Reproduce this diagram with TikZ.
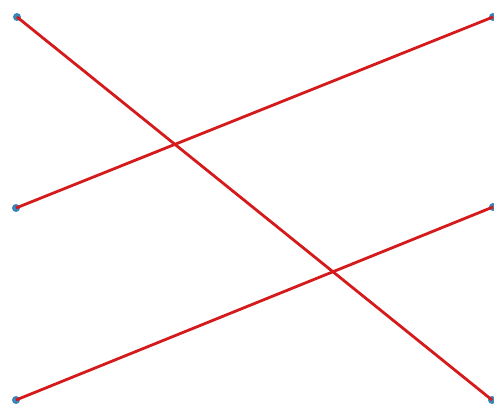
\documentclass[tikz,border=0pt]{standalone}
\definecolor{dotblue}{HTML}{3B86B8}
\definecolor{linered}{HTML}{D41A1A}
\begin{document}
\begin{tikzpicture}[x=1pt,y=-1pt,
  dot/.style={circle,fill=dotblue,inner sep=0pt,minimum size=8pt},
  link/.style={draw=linered,line width=2.8pt}]
\useasboundingbox (0,0) rectangle (494,406);
\node[dot] (l1) at (17,17) {};
\node[dot] (l2) at (16,208) {};
\node[dot] (l3) at (16,400) {};
\node[dot] (r1) at (493,17) {};
\node[dot] (r2) at (493,207) {};
\node[dot] (r3) at (492,400) {};
\draw[link] (l1.center) -- (r3.center);
\draw[link] (l2.center) -- (r1.center);
\draw[link] (l3.center) -- (r2.center);
\end{tikzpicture}
\end{document}
